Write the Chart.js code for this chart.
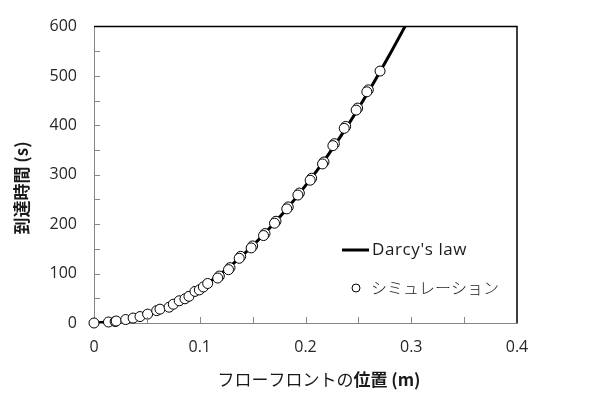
<!DOCTYPE html>
<html><head><meta charset="utf-8">
<script src="https://cdn.jsdelivr.net/npm/chart.js@4.4.0/dist/chart.umd.min.js"></script>
<style>html,body{margin:0;padding:0;background:#fff}#wrap{width:598px;height:393px}</style>
</head><body><div id="wrap"><canvas id="c" width="598" height="393"></canvas></div>
<script>
// Darcy's law curve
const darcyX = [0, 0.02, 0.04, 0.06, 0.08, 0.10, 0.12, 0.14, 0.16, 0.18, 0.20, 0.22, 0.24, 0.26, 0.28, 0.294, 0.30];
const darcyT = [0, 3, 11, 25, 44, 70, 100, 136, 178, 225, 278, 336, 400, 470, 545, 600, 625];
// Simulation points
const simX = [0, 0.0137, 0.020, 0.021, 0.030, 0.037, 0.0435, 0.0507, 0.0593, 0.0624, 0.071, 0.075, 0.0806, 0.086, 0.0898, 0.0955, 0.0996, 0.1034, 0.1075,
  0.1185, 0.1286, 0.1387, 0.1500, 0.1617, 0.1721, 0.1837, 0.1942, 0.2058, 0.2175, 0.2273, 0.2380, 0.2493, 0.2594, 0.2705,
  0.1170, 0.1272, 0.1373, 0.1486, 0.1603, 0.1707, 0.1823, 0.1928, 0.2044, 0.2161, 0.2259, 0.2366, 0.2479, 0.2580];
const simT = [0, 2, 3, 4, 7, 10, 13, 18, 25, 28, 32, 38, 45, 49, 54, 64, 67, 73, 80,
  95, 112, 135, 156, 181, 206, 235, 263, 293, 326, 363, 398, 435, 472, 510,
  91, 108, 131, 152, 177, 202, 231, 259, 289, 322, 359, 394, 431, 468];
const seriesLabels = ["Darcy's law", "シミュレーション"];
const xTitleNormal = "フローフロントの";
const xTitleBold = "位置 (m)";
const yTitle = "到達時間 (s)";
const xTicks = [0, 0.1, 0.2, 0.3, 0.4];
const yTicks = [0, 100, 200, 300, 400, 500, 600];

const FONT = "'Open Sans', 'Noto Sans CJK JP', sans-serif";
const JFONT = "'Noto Sans CJK JP', 'Open Sans', sans-serif";

const decor = {
  id: 'decor',
  afterDraw(chart) {
    const ctx = chart.ctx, a = chart.chartArea, xs = chart.scales.x, ys = chart.scales.y;
    ctx.save();
    // frame top/right
    ctx.strokeStyle = '#000'; ctx.lineWidth = 1.5;
    ctx.beginPath();
    ctx.moveTo(a.left, a.top); ctx.lineTo(a.right, a.top); ctx.lineTo(a.right, a.bottom);
    ctx.stroke();
    // inside ticks
    ctx.strokeStyle = '#868686'; ctx.lineWidth = 1;
    for (let v = 50; v <= 550; v += 50) {
      const y = Math.round(ys.getPixelForValue(v)) + 0.5;
      ctx.beginPath(); ctx.moveTo(a.left, y); ctx.lineTo(a.left + 6, y); ctx.stroke();
    }
    for (let i = 1; i <= 7; i++) {
      const x = Math.round(xs.getPixelForValue(i * 0.05)) + 0.5;
      ctx.beginPath(); ctx.moveTo(x, a.bottom); ctx.lineTo(x, a.bottom - 6); ctx.stroke();
    }
    // legend
    ctx.strokeStyle = '#000'; ctx.lineWidth = 3;
    ctx.beginPath(); ctx.moveTo(342, 250); ctx.lineTo(369, 250); ctx.stroke();
    ctx.fillStyle = '#1a1a1a'; ctx.textBaseline = 'middle'; ctx.textAlign = 'left';
    ctx.font = "17px " + FONT;
    try { ctx.letterSpacing = '0.6px'; } catch (e) {}
    ctx.fillText(seriesLabels[0], 372, 250);
    try { ctx.letterSpacing = '0px'; } catch (e) {}
    ctx.beginPath(); ctx.arc(356, 288, 4, 0, Math.PI * 2);
    ctx.fillStyle = '#fff'; ctx.fill(); ctx.lineWidth = 1; ctx.strokeStyle = '#000'; ctx.stroke();
    ctx.fillStyle = '#1a1a1a';
    ctx.font = "300 16px " + JFONT;
    ctx.fillText(seriesLabels[1], 371, 288);
    // x title
    ctx.font = "17px " + JFONT;
    const w1 = ctx.measureText(xTitleNormal).width;
    ctx.font = "bold 17px " + JFONT;
    const w2 = ctx.measureText(xTitleBold).width;
    let sx = 319 - (w1 + w2) / 2;
    ctx.font = "17px " + JFONT;
    ctx.fillText(xTitleNormal, sx, 380);
    ctx.font = "bold 17px " + JFONT;
    ctx.fillText(xTitleBold, sx + w1, 380);
    // y title
    ctx.translate(22, 188); ctx.rotate(-Math.PI / 2);
    ctx.textAlign = 'center';
    ctx.fillText(yTitle, 0, 0);
    ctx.restore();
  }
};

new Chart(document.getElementById('c'), {
  data: {
    datasets: [
      { type: 'scatter', label: seriesLabels[1], data: simX.map((x, i) => ({ x, y: simT[i] })), clip: false,
        pointRadius: 5, pointBackgroundColor: '#fff', pointBorderColor: '#000', pointBorderWidth: 1, order: 0 },
      { type: 'line', label: seriesLabels[0], data: darcyX.map((x, i) => ({ x, y: darcyT[i] })), clip: 0,
        borderColor: '#000', borderWidth: 3, pointRadius: 0, cubicInterpolationMode: 'monotone', fill: false, order: 1 }
    ]
  },
  options: {
    responsive: false, animation: false, devicePixelRatio: 1,
    layout: { padding: { left: 0, top: 14, right: 81, bottom: 0 } },
    plugins: { legend: { display: false }, tooltip: { enabled: false } },
    scales: {
      x: { type: 'linear', min: 0, max: 0.4,
        afterFit(s) { s.height = 70; },
        afterBuildTicks(s) { s.ticks = xTicks.map(v => ({ value: v })); },
        grid: { display: false, drawTicks: false },
        border: { display: true, color: '#868686', width: 1 },
        ticks: { padding: 15, color: '#262626', font: { family: FONT, size: 16 }, maxRotation: 0,
          callback: v => String(Math.round(v * 10) / 10) } },
      y: { type: 'linear', min: 0, max: 600,
        afterFit(s) { s.width = 94; },
        afterBuildTicks(s) { s.ticks = yTicks.map(v => ({ value: v })); },
        grid: { display: false, drawTicks: false },
        border: { display: true, color: '#868686', width: 1 },
        ticks: { padding: 17, color: '#262626', font: { family: FONT, size: 16 } } }
    }
  },
  plugins: [decor]
});
</script></body></html>
